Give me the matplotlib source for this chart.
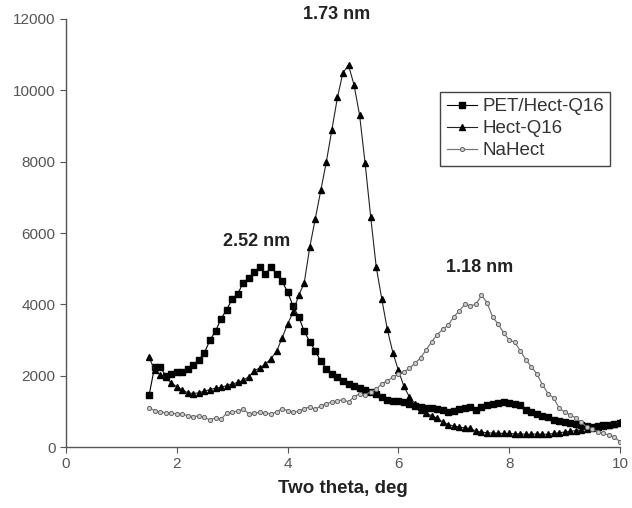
import numpy as np
import matplotlib
matplotlib.use('Agg')
import matplotlib.pyplot as plt

# two theta, 1.5 .. 10.0 deg step 0.1
twoTheta = np.round(np.arange(1.5, 10.01, 0.1), 1)

petHect = [1450, 2250, 2250, 2000, 2050, 2100, 2100, 2200, 2300, 2450,
           2650, 3000, 3250, 3600, 3850, 4150, 4300, 4600, 4750, 4900,
           5050, 4850, 5050, 4850, 4650, 4350, 3950, 3650, 3250, 2950,
           2700, 2400, 2200, 2050, 1950, 1850, 1780, 1700, 1650, 1600,
           1550, 1500, 1400, 1330, 1280, 1300, 1250, 1200, 1150, 1120,
           1100, 1090, 1080, 1050, 990, 1020, 1080, 1100, 1110, 1050,
           1120, 1180, 1210, 1230, 1250, 1230, 1210, 1170, 1050, 970,
           920, 880, 830, 770, 720, 690, 670, 640, 620, 580,
           570, 600, 620, 630, 640, 680]

hectQ16 = [2520, 2150, 2030, 1950, 1800, 1690, 1600, 1520, 1500, 1520,
           1570, 1610, 1650, 1680, 1720, 1770, 1810, 1870, 1970, 2140,
           2220, 2320, 2480, 2680, 3050, 3450, 3780, 4250, 4600, 5600,
           6400, 7200, 8000, 8900, 9800, 10500, 10700, 10150, 9300, 7950,
           6450, 5050, 4150, 3300, 2650, 2150, 1700, 1400, 1220, 1050,
           950, 880, 810, 700, 630, 590, 560, 540, 520, 450,
           420, 400, 390, 390, 380, 380, 370, 370, 360, 360,
           370, 360, 360, 380, 400, 420, 440, 460, 480, 500,
           520, 550, 580, 620, 650, 700]

naHect = [1100, 1020, 980, 960, 950, 930, 920, 880, 850, 880,
          830, 760, 820, 780, 950, 980, 1000, 1070, 930, 960,
          970, 950, 930, 980, 1080, 1020, 980, 1000, 1080, 1120,
          1060, 1150, 1220, 1260, 1300, 1320, 1270, 1400, 1500, 1460,
          1550, 1620, 1780, 1850, 1960, 2050, 2100, 2210, 2350, 2500,
          2720, 2950, 3150, 3300, 3420, 3650, 3820, 4000, 3960, 4000,
          4250, 4050, 3650, 3450, 3200, 3000, 2940, 2700, 2450, 2250,
          2050, 1750, 1500, 1380, 1100, 980, 900, 820, 700, 560,
          500, 430, 380, 340, 280, 150]

seriesNames = ['PET/Hect-Q16', 'Hect-Q16', 'NaHect']
peakLabels = ['2.52 nm', '1.73 nm', '1.18 nm']
peakPos = [(3.45, 5750), (4.89, 12120), (7.47, 5020)]

plt.rcParams['font.family'] = ['Liberation Sans', 'DejaVu Sans']

fig = plt.figure(figsize=(6.32, 5.08), dpi=100)
ax = fig.add_axes([0.1044, 0.12, 0.8766, 0.8426])

ax.plot(twoTheta, petHect, color='black', lw=0.8, marker='s', ms=3.8,
        mfc='black', mec='black', label=seriesNames[0])
ax.plot(twoTheta, hectQ16, color='#222222', lw=0.8, marker='^', ms=4.3,
        mfc='black', mec='black', label=seriesNames[1])
ax.plot(twoTheta, naHect, color='#777777', lw=0.9, marker='o', ms=3,
        mfc='#cccccc', mec='#666666', mew=0.7, label=seriesNames[2])

for txt, (px, py) in zip(peakLabels, peakPos):
    ax.text(px, py, txt, fontsize=13, fontweight='bold', ha='center',
            va='center', color='#222222', clip_on=False)

ax.set_xlim(0, 10)
ax.set_ylim(0, 12000)
ax.set_xticks([0, 2, 4, 6, 8, 10])
ax.set_yticks(range(0, 12001, 2000))
for s in ['top', 'right']:
    ax.spines[s].set_visible(False)
for s in ['left', 'bottom']:
    ax.spines[s].set_color('#555555')
    ax.spines[s].set_linewidth(1.0)
ax.tick_params(direction='out', length=4, color='#555555',
               labelcolor='#555555', labelsize=11)
ax.set_xlabel('Two theta, deg', fontsize=13.5, fontweight='bold',
              color='#222222', labelpad=6)

leg = ax.legend(loc='upper left', bbox_to_anchor=(0.675, 0.83),
                fontsize=13.5, fancybox=False, framealpha=1,
                edgecolor='#444444', handlelength=1.6, handletextpad=0.3,
                borderpad=0.35, labelspacing=0.25, borderaxespad=0)
leg.get_frame().set_linewidth(1.0)
for t in leg.get_texts():
    t.set_color('#333333')

fig.savefig('out.png', dpi=100)
